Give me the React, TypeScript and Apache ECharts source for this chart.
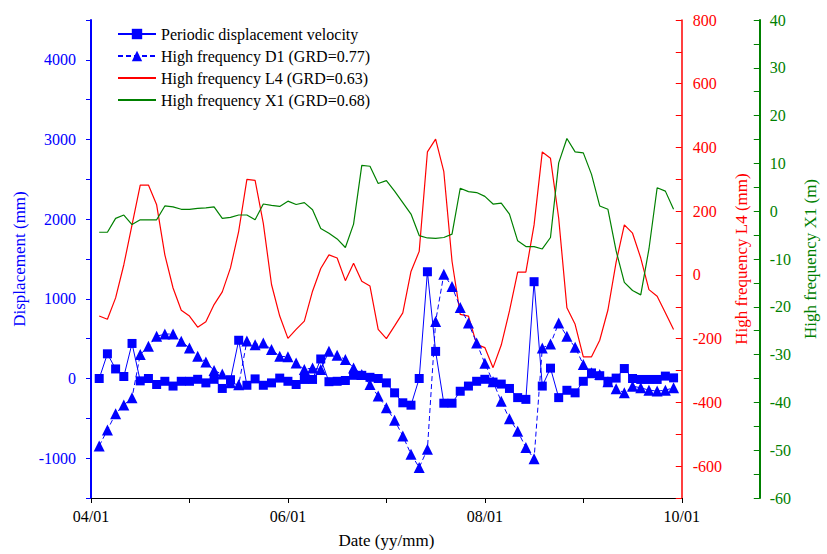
import React, { useEffect, useRef } from "react";
import * as echarts from "echarts";

// x tick labels (one per month; only every second one is printed)
const xTickLabels = ["04/01", "05/01", "06/01", "07/01", "08/01", "09/01", "10/01"];

// Periodic displacement velocity (mm)
const periodic = [
  0, 310, 120, 25, 440, -30, 0, -75, -35, -95, -35, -35, -10, -55, -10, -125, -15, 480, -85, -5,
  -85, -55, 5, -35, -75, -12, -12, 245, -40, -35, -25, 40, 40, 15, 0, -55, -180, -305, -335, 0,
  1340, 340, -310, -310, -160, -95, -35, -10, -45, -70, -125, -240, -262, 1215, -95, 130, -240, -148, -180, -35,
  70, 35, -35, 5, 125, 0, -12, -12, -12, 30, 8,
];

// High frequency D1 (mm)
const highD1 = [
  -846, -646, -442, -333, -242, 300, 404, 529, 558, 558, 467, 383, 279, 208, 100, 55, -54, -80, 470, 425,
  446, 363, 279, 272, 196, 113, 133, 113, 342, 292, 238, 133, 50, -75, -221, -367, -525, -721, -950, -1117,
  -888, 717, 1308, 1154, 892, 696, 446, 190, -40, -287, -506, -662, -866, -1008, 383, 433, 696, 529, 392, 175,
  71, 50, -41, -129, -179, -96, -117, -146, -158, -146, -117,
];

// High frequency L4 (mm)
const highL4 = [
  -129, -139, -72, 32, 157, 282, 282, 220, 63, -41, -111, -129, -164, -147, -93, -53, 22, 137, 300, 297,
  162, -30, -129, -199, -171, -145, -51, 20, 63, 53, -18, 37, -20, -35, -171, -200, -160, -119, 11, 74,
  386, 426, 324, 43, -124, -129, -218, -228, -291, -220, -113, 9, 9, 157, 386, 366, 178, -103, -155, -257,
  -257, -205, -110, 40, 157, 131, 53, -46, -67, -119, -171,
];

// High frequency X1 (m)
const highX1 = [
  -4.4, -4.4, -1.5, -0.8, -2.8, -1.8, -1.8, -1.8, 1.1, 0.9, 0.4, 0.4, 0.6, 0.7, 0.9, -1.5, -1.3, -0.8, -0.8, -1.8,
  1.5, 1.2, 1.0, 2.1, 1.4, 1.8, 0.3, -3.6, -4.6, -5.8, -7.6, -2.7, 9.6, 9.4, 5.8, 6.4, 4.2, 1.8, -0.6, -5.1,
  -5.6, -5.7, -5.5, -4.8, 4.8, 4.1, 3.9, 3.1, 1.5, 1.7, -0.6, -6.2, -7.4, -7.4, -7.9, -5.5, 10.1, 15.2, 12.4, 12.2,
  7.7, 1.1, 0.4, -8.3, -14.9, -16.6, -17.5, -7.9, 4.9, 4.2, 0.4,
];

const seriesNames = [
  "Periodic displacement velocity",
  "High frequency D1 (GRD=0.77)",
  "High frequency L4 (GRD=0.63)",
  "High frequency X1 (GRD=0.68)",
];

// sample positions, in twelfths of a month after 04/01
const pairs = (vals: number[]) => vals.map((v, i) => [i + 1, v]);

const FONT = "'Liberation Serif', 'Times New Roman', serif";
const BLUE = "#0000FF";
const RED = "#FF0000";
const GREEN = "#008000";
const W = 827;
const H = 554;

export default function App() {
  const ref = useRef<HTMLDivElement>(null);
  useEffect(() => {
    if (!ref.current) return;
    const chart = echarts.init(ref.current, undefined, { renderer: "svg", width: W, height: H });
    chart.setOption({
      animation: false,
      backgroundColor: "#fff",
      textStyle: { fontFamily: FONT },
      grid: { left: 91, right: 135, top: 20, bottom: 54, containLabel: false },
      legend: {
        orient: "vertical",
        left: 117,
        top: 26,
        padding: 0,
        itemWidth: 38,
        itemHeight: 13,
        itemGap: 6,
        textStyle: { fontFamily: FONT, fontSize: 16, color: "#000" },
        data: [
          { name: seriesNames[0] },
          { name: seriesNames[1] },
          { name: seriesNames[2], itemStyle: { opacity: 0 } },
          { name: seriesNames[3], itemStyle: { opacity: 0 } },
        ],
      },
      xAxis: {
        type: "value",
        min: 0,
        max: 72,
        interval: 12,
        name: "Date (yy/mm)",
        nameLocation: "middle",
        nameGap: 34,
        nameTextStyle: { fontFamily: FONT, fontSize: 17, color: "#000" },
        axisLine: { onZero: false, lineStyle: { color: "#000", width: 1 } },
        axisTick: { show: true, length: 5, lineStyle: { color: "#000" } },
        axisLabel: {
          fontFamily: FONT,
          fontSize: 16,
          color: "#000",
          margin: 10,
          formatter: (v: number) => {
            const idx = Math.round(v / 12);
            return idx % 2 === 0 ? xTickLabels[idx] : "";
          },
        },
        splitLine: { show: false },
      },
      yAxis: [
        {
          type: "value",
          position: "left",
          min: -1500,
          max: 4500,
          interval: 500,
          name: "Displacement (mm)",
          nameLocation: "middle",
          nameGap: 58,
          nameTextStyle: { fontFamily: FONT, fontSize: 17, color: BLUE },
          axisLine: { show: true, lineStyle: { color: BLUE, width: 2 } },
          axisTick: { show: true, length: 5, lineStyle: { color: BLUE } },
          axisLabel: {
            fontFamily: FONT,
            fontSize: 16,
            color: BLUE,
            margin: 15,
            formatter: (v: number) => (v % 1000 === 0 ? String(v) : ""),
          },
          splitLine: { show: false },
        },
        {
          type: "value",
          position: "right",
          min: -700,
          max: 800,
          interval: 100,
          name: "High frequency L4 (mm)",
          nameLocation: "middle",
          nameRotate: 90,
          nameGap: 48,
          nameTextStyle: { fontFamily: FONT, fontSize: 17, color: RED },
          axisLine: { show: true, lineStyle: { color: RED, width: 1.5 } },
          axisTick: { show: true, inside: true, length: 6, lineStyle: { color: RED } },
          axisLabel: {
            fontFamily: FONT,
            fontSize: 16,
            color: RED,
            margin: 11,
            formatter: (v: number) => (v % 200 === 0 ? String(v) : ""),
          },
          splitLine: { show: false },
        },
        {
          type: "value",
          position: "right",
          offset: 78,
          min: -60,
          max: 40,
          interval: 5,
          name: "High frequency X1 (m)",
          nameLocation: "middle",
          nameRotate: 90,
          nameGap: 38,
          nameTextStyle: { fontFamily: FONT, fontSize: 17, color: GREEN },
          axisLine: { show: true, lineStyle: { color: GREEN, width: 2 } },
          axisTick: { show: true, inside: true, length: 6, lineStyle: { color: GREEN } },
          axisLabel: {
            fontFamily: FONT,
            fontSize: 16,
            color: GREEN,
            margin: 10,
            formatter: (v: number) => (v % 10 === 0 ? String(v) : ""),
          },
          splitLine: { show: false },
        },
      ],
      series: [
        {
          name: seriesNames[2],
          type: "line",
          yAxisIndex: 1,
          data: pairs(highL4),
          symbol: "none",
          lineStyle: { color: RED, width: 1.2 },
          itemStyle: { color: RED },
          z: 2,
        },
        {
          name: seriesNames[3],
          type: "line",
          yAxisIndex: 2,
          data: pairs(highX1),
          symbol: "none",
          lineStyle: { color: GREEN, width: 1.2 },
          itemStyle: { color: GREEN },
          z: 2,
        },
        {
          name: seriesNames[0],
          type: "line",
          yAxisIndex: 0,
          data: pairs(periodic),
          symbol: "rect",
          symbolSize: 9,
          lineStyle: { color: BLUE, width: 1 },
          itemStyle: { color: BLUE },
          z: 4,
        },
        {
          name: seriesNames[1],
          type: "line",
          yAxisIndex: 0,
          data: pairs(highD1),
          symbol: "triangle",
          symbolSize: 11,
          lineStyle: { color: BLUE, width: 1, type: [5, 3] },
          itemStyle: { color: BLUE },
          z: 3,
        },
      ],
    });
    return () => chart.dispose();
  }, []);
  return (
    <div
      ref={ref}
      style={{ position: "fixed", left: 0, top: 0, width: W, height: H, background: "#fff" }}
    />
  );
}
